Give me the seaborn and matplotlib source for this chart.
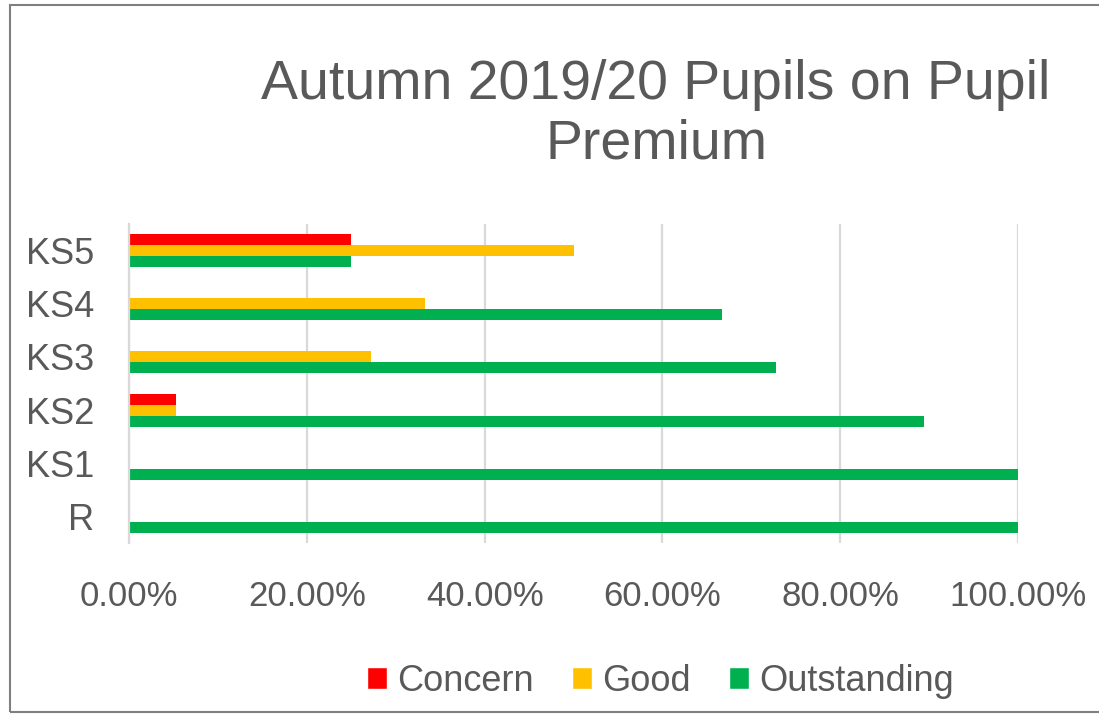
import numpy as np
import pandas as pd
import matplotlib
matplotlib.use('Agg')
import matplotlib.pyplot as plt
from matplotlib.patches import Rectangle, Patch
from matplotlib.ticker import PercentFormatter
import seaborn as sns

sns.set_style('white')
plt.rcParams['font.family'] = ['Liberation Sans', 'DejaVu Sans']

# data (fractions of pupils)
stages = ['KS5', 'KS4', 'KS3', 'KS2', 'KS1', 'R']
concern = [0.25, 0.0, 0.0, 0.0526, 0.0, 0.0]
good = [0.50, 0.3333, 0.2727, 0.0526, 0.0, 0.0]
outstanding = [0.25, 0.6667, 0.7273, 0.8947, 1.0, 1.0]
series = ['Concern', 'Good', 'Outstanding']
colours = ['#FF0000', '#FFC000', '#00B050']

df = pd.DataFrame({'Stage': stages, 'Concern': concern, 'Good': good,
                   'Outstanding': outstanding})
long = df.melt(id_vars='Stage', var_name='Rating', value_name='Share')

txt = '#595959'
fig = plt.figure(figsize=(10.99, 7.17), dpi=100)
ax = fig.add_axes([0.1174, 0.2427, 0.809, 0.445])

sns.barplot(data=long, y='Stage', x='Share', hue='Rating', order=stages,
            hue_order=series, palette=colours, orient='h', width=0.62,
            linewidth=0, saturation=1, ax=ax, legend=False)

ax.set_xlim(0, 1)
ax.xaxis.set_major_locator(plt.MultipleLocator(0.2))
ax.xaxis.set_major_formatter(PercentFormatter(1.0, decimals=2))
ax.grid(axis='x', color='#D9D9D9', linewidth=1.6)
ax.set_axisbelow(True)
for s in ['top', 'right', 'bottom']:
    ax.spines[s].set_visible(False)
ax.spines['left'].set_color('#D9D9D9')
ax.spines['left'].set_linewidth(1.6)
ax.set_xlabel('')
ax.set_ylabel('')
ax.tick_params(axis='both', length=0, colors=txt)
ax.tick_params(axis='x', pad=27, labelsize=25)
ax.tick_params(axis='y', pad=25, labelsize=26)

fig.text(0.597, 0.84, 'Autumn 2019/20 Pupils on Pupil\nPremium', ha='center',
         va='center', fontsize=40, color=txt, linespacing=1.2)

handles = [Patch(facecolor=c, label=l) for c, l in zip(colours, series)]
fig.legend(handles=handles, loc='center', bbox_to_anchor=(0.601, 0.05),
           ncol=3, frameon=False, fontsize=26, labelcolor=txt,
           handlelength=0.55, handleheight=0.55, handletextpad=0.3,
           columnspacing=1.05)

# outer chart border like the screenshot
fig.patches.append(Rectangle((10 / 1099, 5 / 717), 1.2, 707 / 717,
                             transform=fig.transFigure, fill=False,
                             edgecolor='#7F7F7F', linewidth=1.5))

fig.savefig('out.png', dpi=100)
